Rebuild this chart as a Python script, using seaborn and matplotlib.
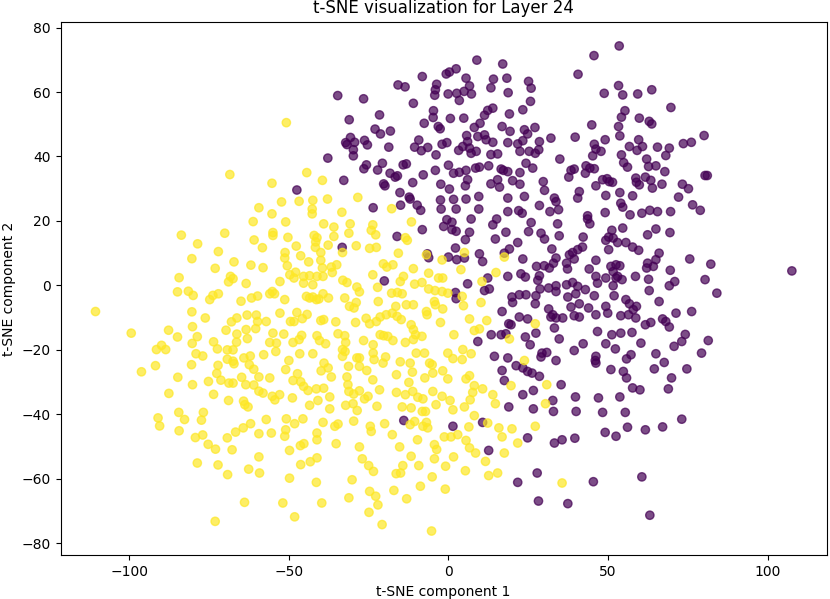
import numpy as np
import pandas as pd
import matplotlib
matplotlib.use("Agg")
import matplotlib.pyplot as plt
import seaborn as sns

# points (cluster 0 = purple, cluster 1 = yellow)
purple_pts = [
    (-34.7,58.9),(-26.6,57.9),(-15.8,62.2),(-13.6,61.6),(-8.2,64.8),(-11.0,56.5),(-0.7,65.6),(0.3,66.2),(2.4,67.2),
    (-3.7,62.4),(-4.1,60.7),(-4.3,59.0),(-0.1,59.4),(2.6,59.6),(3.4,57.4),(-4.7,54.2),(-4.8,52.1),(-7.6,50.3),
    (0.6,51.8),(-3.2,49.3),(-2.6,48.6),(-21.6,52.9),(-31.1,51.4),(-23.0,48.5),(-21.3,47.0),(-18.2,47.9),(-30.7,45.9),
    (-32.2,44.3),(-29.4,44.4),(-31.8,43.7),(-29.8,42.1),(-29.8,40.2),(-26.3,45.0),(-25.4,43.6),(-18.7,42.9),(-10.6,42.9),
    (-8.5,41.8),(-6.5,42.8),(-9.3,45.1),(-2.0,43.8),(-0.5,44.3),(-3.9,40.5),(3.2,41.9),(-37.8,39.5),(-25.7,37.4),
    (-26.5,36.2),(-22.2,35.8),(-20.7,37.9),(-18.3,34.8),(-16.7,33.6),(-16.0,34.0),(-14.2,37.4),(-13.2,37.7),(-7.9,34.3),
    (-4.1,35.7),(0.0,37.3),(1.6,34.8),(3.4,35.1),(-32.8,32.6),(-20.3,31.5),(-19.9,30.9),(-11.2,31.9),(-2.4,31.4),
    (0.3,29.9),(-47.5,29.6),(-15.2,28.8),(-12.3,27.4),(-12.0,26.8),(-2.5,26.5),(1.6,26.7),(-9.8,24.9),(-8.7,23.3),
    (-15.0,24.9),(-23.6,24.1),(-2.3,23.7),(2.4,23.7),
    (-0.5,20.4),(1.1,19.6),(-1.5,18.3),(1.1,17.3),(2.4,16.8),(-8.2,17.3),(-16.1,15.2),(-33.3,11.8),(-6.6,9.8),
    (-6.2,8.6),(0.0,8.8),(2.2,11.6),(2.6,8.0),(-20.1,1.4),(2.2,-2.2),(2.4,-4.1),(-14.0,-41.9),(1.4,-43.7),
    (8.9,69.9),(17.0,68.7),(5.5,64.3),(6.6,61.9),(7.2,59.4),(4.9,60.2),(14.1,64.0),(13.3,61.3),(18.3,64.3),
    (18.7,59.8),(25.1,63.3),(25.9,61.2),(25.7,57.1),(23.3,54.5),(19.1,53.2),(13.9,55.0),(12.3,54.3),(11.3,52.8),
    (9.9,50.3),(4.8,51.9),(8.1,49.0),(9.2,46.2),(11.3,46.7),(5.7,46.5),(6.0,44.6),(6.6,42.6),(4.5,43.1),
    (7.1,41.0),(8.7,41.6),(13.9,44.4),(11.8,45.2),(16.8,49.3),(19.3,47.8),(23.8,48.3),(24.8,47.0),(27.1,49.0),
    (18.6,44.3),(21.7,43.9),(22.4,41.6),(23.3,44.9),(28.5,44.6),(28.3,42.1),(25.3,41.6),(27.2,41.0),(32.1,45.7),
    (13.3,40.6),(15.4,40.8),(5.5,35.7),(6.0,32.8),(5.3,30.9),(8.5,36.4),(9.7,36.7),(12.6,37.1),(16.5,36.1),
    (17.2,35.7),(18.6,35.3),(15.4,32.8),(24.3,37.9),(26.4,36.4),(22.4,35.0),(20.1,32.5),(22.4,31.4),(13.3,31.5),
    (16.0,30.5),(29.7,32.2),(30.1,29.5),(34.9,39.2),(9.5,27.6),(18.6,27.1),(23.8,27.6),(5.5,26.8),(9.5,23.7),
    (18.6,22.9),(22.0,23.2),(23.1,22.4),(28.5,24.8),(31.8,22.9),(33.2,27.1),(33.7,26.0),(34.5,23.5),(39.7,46.0),
    (40.6,65.5),(45.6,71.3),(53.5,74.3),(48.8,59.6),(53.3,62.0),(54.6,59.1),(59.3,59.4),(63.7,60.7),(55.3,54.2),
    (54.2,52.2),(53.3,49.3),(53.7,46.4),(44.9,49.8),(49.1,45.2),(45.7,43.8),(46.2,42.3),(47.8,41.6),(45.2,40.2),
    (59.8,51.9),(62.9,50.9),(63.7,50.1),(56.7,43.1),(59.6,45.2),(59.1,41.9),(60.8,43.1),(54.2,40.5),(54.9,38.1),
    (56.1,36.7),(62.1,39.2),(62.7,36.9),(65.0,37.1),(65.5,42.9),(39.4,36.1),(38.4,35.7),(37.7,33.6),(43.1,37.1),
    (44.3,36.4),(45.7,36.2),(42.9,34.8),(48.3,32.8),(49.7,33.1),(50.4,32.2),(51.4,32.0),(46.2,30.9),(41.0,29.1),
    (40.5,27.1),(49.3,27.9),(53.7,28.8),(57.7,27.8),(58.7,33.3),(58.9,32.0),(61.7,33.6),(63.4,32.6),(63.9,30.2),
    (59.8,31.2),(65.5,22.9),(63.1,23.3),(54.0,25.5),(54.6,24.3),(49.1,22.6),(43.6,21.6),(56.9,21.9),(60.6,22.4),
    (7.1,20.6),(13.9,18.8),(15.1,20.6),(25.9,19.5),(34.2,19.1),(43.6,20.6),(44.3,19.1),(6.6,16.5),(18.0,16.5),
    (25.1,16.7),(29.0,16.2),(30.1,14.4),(34.7,15.4),(42.2,15.0),(51.2,17.1),(50.2,15.0),(49.3,14.0),(51.6,14.7),
    (53.0,13.3),(54.6,17.8),(62.4,15.7),(65.0,17.5),(55.6,13.3),(57.7,11.9),(59.6,10.9),(5.3,14.2),(14.7,14.4),
    (21.7,13.3),(19.1,11.3),(17.5,10.0),(23.3,8.2),(32.4,11.3),(33.7,8.5),(38.9,10.2),(40.5,11.1),(42.0,11.9),
    (37.9,9.5),(39.4,8.2),(46.2,7.8),(50.2,11.1),(9.7,9.8),(10.7,7.4),(5.0,8.5),(27.6,5.9),(30.0,6.1),
    (31.6,5.4),(32.9,6.9),(37.0,6.9),(37.3,5.1),(44.1,5.1),(46.2,2.8),(46.7,0.7),(50.9,5.9),(52.5,6.4),
    (53.7,6.1),(51.6,4.3),(53.0,2.8),(52.5,2.3),(54.4,1.8),(49.3,2.3),(51.6,-0.1),(58.6,2.8),(62.4,6.9),
    (62.1,5.4),(65.0,8.0),(64.2,5.9),(62.7,1.9),(62.9,-1.6),(18.6,2.8),(22.7,3.6),(24.1,2.6),(28.5,3.0),
    (28.0,1.6),(12.3,2.3),(6.0,0.5),(11.3,-1.6),(12.8,-1.1),(28.7,-1.1),(31.4,-0.8),(33.7,-0.1),(33.7,-1.9),
    (37.0,0.2),(38.9,0.9),(40.5,-0.3),(39.9,-2.6),(42.9,-1.3),(37.4,-3.6),(45.7,-3.2),(19.9,-3.6),(20.1,-5.3),
    (22.2,-2.9),(24.3,-2.9),(27.4,-3.2),(27.2,-5.7),(31.4,-7.3),(32.7,-9.1),(33.7,-10.1),(32.1,-9.8),(35.8,-10.1),
    (38.4,-6.7),(41.0,-5.7),(39.4,-9.4),(41.0,-9.8),(43.9,-7.0),(46.2,-9.1),(46.7,-14.3),(49.3,-6.5),(49.9,-8.6),
    (51.9,-3.2),(55.6,-4.4),(56.7,-5.7),(58.9,-6.5),(57.9,-7.5),(54.0,-9.4),(56.4,-9.1),(58.7,-10.1),(61.7,-12.2),
    (63.4,-11.5),(16.8,-8.1),(22.2,-9.8),(24.8,-10.4),(18.9,-11.9),(19.6,-12.2),(13.4,-15.3),(16.5,-15.3),(18.0,-15.0),
    (9.2,-17.4),(24.1,-16.0),(27.4,-14.8),(25.6,-18.4),(33.2,-13.2),(34.7,-16.6),(42.2,-18.1),(39.4,-20.2),(51.2,-15.3),
    (54.0,-14.8),(57.5,-14.6),(60.3,-17.9),(49.3,-18.1),(52.3,-19.7),(65.0,-21.2),(46.2,-22.0),(46.0,-23.3),(46.2,-24.1),
    (55.8,-22.8),(57.2,-21.5),(14.4,-22.0),(18.6,-22.5),(21.2,-24.9),(23.3,-25.6),(24.8,-26.7),(29.3,-21.0),(30.8,-20.8),
    (29.0,-22.2),(33.7,-23.3),(16.8,-26.4),(17.5,-29.5),(26.2,-27.2),(28.5,-28.2),(35.3,-30.8),(50.9,-26.1),(54.8,-26.7),
    (55.8,-28.7),(64.5,-25.9),(57.7,-31.8),(60.0,-32.4),(23.3,-33.9),(26.6,-32.6),(32.7,-35.7),(39.8,-34.6),(47.0,-34.9),
    (53.7,-34.6),(18.9,-37.7),(26.6,-38.3),(32.9,-39.1),(40.0,-39.1),(48.3,-39.4),(55.4,-39.4),
    (10.7,-42.5),(12.6,-51.2),(24.8,-47.3),(33.2,-48.9),(35.6,-47.9),(39.6,-47.4),(49.1,-45.6),(52.5,-46.8),(56.1,-44.0),
    (61.7,-44.8),(21.7,-61.1),(27.8,-58.2),(28.2,-66.9),(37.4,-67.7),(45.4,-60.9),(60.6,-59.4),(63.1,-71.3),
    (69.7,55.2),(80.1,46.5),(73.6,44.0),(76.1,44.4),(69.2,42.6),(68.1,40.3),(67.8,35.3),(80.4,34.1),(81.1,34.1),
    (66.9,31.4),(73.3,31.4),(75.2,30.0),(72.1,27.4),(76.5,25.0),(78.9,23.3),(69.6,22.9),
    (69.4,16.4),(66.0,10.0),(75.6,8.2),(82.2,6.6),(69.5,4.7),(70.9,1.2),(69.2,-0.1),(80.4,1.8),(107.6,4.5),
    (84.1,-2.4),(66.0,-5.0),(71.3,-8.6),(76.2,-8.1),(67.1,-10.4),(68.1,-11.2),(69.2,-12.9),(74.2,-15.2),(73.1,-17.4),
    (70.7,-18.9),(81.4,-17.1),(79.3,-21.0),(67.6,-23.9),(74.7,-25.9),(69.9,-28.7),(68.9,-32.1),(73.1,-41.5),(67.1,-43.9),
]

yellow_pts = [
    (-68.5,34.4),(-83.7,15.6),(-78.6,12.9),(-70.1,16.2),(-61.2,19.8),(-59.4,24.1),(-60.9,14.1),(-72.1,10.5),(-80.4,8.3),
    (-67.2,7.3),(-61.9,6.3),(-73.1,5.3),(-84.4,2.4),(-68.3,2.8),(-67.5,2.1),(-68.9,1.1),(-63.4,0.6),(-84.9,-2.0),
    (-81.5,-1.8),(-80.0,-3.1),(-74.8,-4.4),(-73.8,-3.1),(-72.1,-2.6),(-65.0,-4.9),(-61.7,-3.9),(-59.8,-3.3),(-110.6,-8.1),
    (-80.4,-8.2),(-76.2,-10.1),(-63.1,-9.2),(-60.2,-9.2),(-66.3,-10.1),(-68.0,-11.3),(-59.8,-11.2),(-80.2,-12.8),(-69.7,-13.9),
    (-99.4,-14.8),(-87.7,-13.9),(-63.4,-13.7),(-60.4,-13.4),(-84.9,-16.0),(-78.7,-15.9),(-66.3,-15.1),(-66.4,-17.6),(-63.0,-16.5),
    (-80.3,-18.0),(-73.6,-17.5),(-89.9,-18.6),(-91.5,-19.9),(-88.6,-19.9),(-72.4,-19.7),(-69.3,-20.0),(-67.5,-20.0),
    (-79.1,-21.2),(-77.0,-21.9),(-69.3,-22.9),(-67.5,-23.5),(-67.2,-24.3),(-64.1,-22.5),(-62.1,-21.9),(-72.2,-24.8),(-80.5,-24.6),
    (-91.8,-24.9),(-96.2,-26.8),(-62.4,-24.6),(-61.0,-26.0),(-72.6,-27.3),(-84.8,-28.5),(-71.3,-29.4),(-75.2,-29.8),(-80.2,-30.8),
    (-68.8,-30.3),(-67.5,-30.3),(-64.8,-28.5),(-63.5,-30.8),(-61.0,-30.9),(-59.4,-28.4),(-59.4,-32.8),(-87.6,-33.5),(-73.6,-33.8),
    (-68.9,-35.7),(-64.2,-35.9),(-63.8,-37.0),(-62.8,-37.7),(-84.5,-39.4),(-76.8,-39.4),(-91.0,-41.1),(-90.5,-43.6),(-82.7,-41.6),
    (-77.4,-41.8),(-84.4,-45.1),(-62.0,-42.9),(-64.3,-44.2),(-66.7,-45.5),(-59.4,-46.0),(-77.0,-46.4),(-79.3,-47.2),(-69.3,-47.3),
    (-75.3,-49.3),(-73.0,-50.8),(-67.8,-51.0),(-59.4,-53.2),(-78.7,-55.1),(-72.2,-55.7),(-62.6,-57.0),(-69.2,-58.7),(-59.2,-58.2),
    (-63.9,-67.3),(-73.1,-73.2),
    (-50.8,50.5),(-44.4,35.0),(-39.5,32.6),(-55.3,31.7),(-52.3,25.9),(-46.8,26.1),(-42.5,26.4),(-37.9,26.8),(-28.4,27.3),
    (-55.3,22.2),(-42.7,23.7),(-42.7,22.2),(-33.4,22.7),(-17.8,23.8),
    (-51.0,19.7),(-39.1,19.1),(-35.9,18.1),(-30.8,19.1),(-23.7,18.8),(-24.2,17.1),(-22.8,15.7),(-55.0,16.4),(-55.0,15.5),
    (-50.3,14.9),(-42.1,15.5),(-41.2,14.8),(-41.6,13.5),(-41.7,11.8),(-35.9,15.2),(-31.2,16.2),(-11.6,19.7),(-13.5,14.8),
    (-12.9,14.0),(-58.3,11.7),(-51.2,10.2),(-51.3,8.5),(-47.7,12.2),(-46.3,9.2),(-43.8,7.3),(-40.0,10.2),(-37.7,12.5),
    (-33.2,10.2),(-28.9,12.3),(-24.7,11.5),(-22.6,11.8),(-15.7,10.0),(-6.9,9.5),(-2.0,7.9),
    (-50.5,6.1),(-49.7,3.3),(-47.9,4.1),(-48.4,2.3),(-45.4,2.8),(-45.4,0.7),(-43.5,3.0),(-42.5,0.2),(-40.0,7.8),
    (-39.5,5.4),(-36.7,5.7),(-36.4,4.0),(-35.0,6.4),(-33.1,1.6),(-31.8,0.9),(-39.3,2.8),(-41.2,2.8),(-58.1,5.5),
    (-52.8,1.2),(-23.7,3.3),(-20.4,6.7),(-19.3,5.7),(-17.4,6.4),(-14.1,2.8),(-15.1,1.2),(-22.2,-0.6),(-28.7,-0.5),
    (-27.9,-2.0),(-11.0,5.2),(-6.2,3.8),(-3.1,2.3),(-1.8,2.3),(-10.6,0.4),(-8.3,0.9),(-6.2,-1.1),(-4.2,-1.6),
    (-2.0,-1.9),(-0.2,-2.4),(-17.8,-2.4),(-16.0,-2.2),(-14.5,-2.6),
    (-56.0,-2.6),(-55.2,-1.9),(-54.5,-2.6),(-51.3,-4.4),(-44.5,-3.4),(-43.5,-3.9),(-42.5,-3.6),(-41.4,-4.4),(-40.6,-4.2),
    (-39.3,-2.6),(-37.6,-3.9),(-32.5,-3.9),(-28.9,-5.3),(-31.0,-6.5),(-29.6,-7.0),(-22.0,-5.0),(-16.5,-6.5),(-13.2,-6.0),
    (-11.0,-6.0),(-4.4,-5.0),(-4.1,-6.0),(-1.8,-7.3),(-6.9,-8.1),(-6.7,-9.1),
    (-57.1,-11.2),(-52.8,-8.6),(-49.5,-11.2),(-48.4,-11.2),(-47.5,-8.4),(-45.8,-10.3),(-44.3,-9.0),(-40.0,-10.9),(-39.1,-10.6),
    (-35.3,-11.3),(-29.1,-11.5),(-25.8,-10.2),(-24.7,-11.9),(-22.6,-11.2),(-21.4,-9.8),(-19.5,-9.1),(-17.6,-8.6),(-16.1,-9.6),
    (-14.8,-10.6),(-11.7,-12.2),(-11.0,-13.7),(-10.3,-15.3),(-2.5,-11.5),(1.7,-15.3),
    (-55.0,-14.8),(-53.9,-17.9),(-56.0,-17.7),(-51.6,-15.1),(-48.7,-17.7),(-46.8,-16.8),(-46.0,-15.5),(-41.2,-15.6),(-40.4,-17.1),
    (-38.5,-18.1),(-34.6,-15.0),(-32.5,-15.6),(-32.2,-17.7),(-26.6,-17.1),(-21.4,-15.3),(-20.3,-15.6),(-19.0,-15.8),(-17.4,-17.1),
    (-13.5,-17.7),(-11.0,-16.8),(-8.3,-15.8),
    (-57.9,-21.5),(-54.1,-20.5),(-50.0,-23.3),(-51.0,-26.1),(-46.6,-21.2),(-42.5,-21.2),(-39.0,-24.1),(-39.9,-26.5),(-37.7,-25.6),
    (-33.2,-19.9),(-33.2,-22.0),(-32.4,-20.5),(-28.7,-22.5),(-27.9,-22.5),(-27.9,-25.1),(-31.3,-25.1),(-23.6,-18.4),(-23.6,-21.0),
    (-23.3,-23.0),(-19.7,-22.2),(-20.5,-24.1),(-15.1,-23.7),(-12.0,-24.1),(-10.1,-21.0),(-7.5,-21.0),(-5.9,-24.1),(-5.1,-24.6),
    (-0.2,-21.0),(1.4,-22.7),
    (-25.6,-26.4),(-16.3,-27.7),(-11.3,-26.9),(-7.4,-28.7),(-4.9,-27.2),(-1.8,-26.5),(-56.0,-28.7),(-47.3,-27.4),(-46.3,-29.9),
    (-48.7,-29.5),(-36.7,-28.4),(-31.8,-28.4),(-31.5,-30.8),(-23.7,-29.3),(-21.6,-32.4),(-12.4,-30.1),(-0.2,-29.0),
    (-58.1,-33.4),(-55.2,-34.4),(-52.9,-33.9),(-54.4,-35.5),(-48.9,-34.9),(-45.4,-31.3),(-44.0,-32.6),(-41.4,-32.1),(-39.1,-31.9),
    (-37.2,-34.6),(-31.2,-32.9),(-27.9,-32.7),(-29.7,-33.7),(-26.3,-35.2),(-25.2,-34.4),(-16.3,-33.2),(-13.5,-33.9),(-11.2,-32.9),
    (-9.6,-34.7),(-8.0,-35.2),(-4.9,-32.9),(-2.0,-34.4),(0.5,-35.7),
    (-43.5,-37.2),(-40.9,-35.7),(-37.2,-38.3),(-32.2,-37.2),(-29.9,-36.7),(-28.6,-38.8),(-22.4,-37.5),(-14.5,-37.7),(-11.7,-38.0),
    (-8.2,-39.1),(-7.2,-39.1),(-3.9,-37.0),(1.4,-38.6),
    (-57.1,-41.6),(-50.8,-41.4),(-45.6,-41.4),(-39.3,-42.5),(-34.6,-43.0),(-35.6,-43.7),(-29.7,-42.1),(-20.0,-42.9),(-24.5,-43.7),
    (-24.2,-45.3),(-17.6,-46.3),(-10.6,-42.2),(-8.0,-43.7),(-6.9,-42.5),(-6.5,-44.2),(-12.0,-43.2),(-1.3,-47.0),(0.8,-47.0),
    (2.9,-46.3),(-55.5,-45.8),(-51.0,-44.8),(-51.3,-46.8),(-48.2,-42.9),(-41.2,-45.8),(-41.2,-47.9),(-46.4,-49.7),(-45.3,-49.1),
    (-49.8,-51.2),(-35.2,-49.1),(-27.9,-50.1),(-9.7,-47.9),(-4.4,-49.4),(-3.7,-50.9),(-15.3,-50.1),(-11.7,-53.0),(-9.3,-55.9),
    (-4.4,-53.8),(1.6,-53.2),(-0.9,-56.1),(-46.3,-55.6),(-43.3,-54.7),(-41.2,-53.5),(-27.0,-53.8),(-25.0,-55.9),(-23.5,-57.7),
    (-14.3,-55.9),(-16.4,-58.4),(-15.0,-58.2),(-49.8,-59.8),(-41.4,-61.1),(-30.2,-60.3),(-8.8,-62.3),(-5.1,-59.4),(-1.0,-63.2),
    (-24.7,-63.9),(-22.8,-65.4),(-22.1,-68.1),(-31.2,-65.9),(-17.1,-63.6),(-13.1,-66.2),(-51.9,-67.5),(-39.7,-67.5),(-48.2,-71.8),
    (-24.9,-70.4),(-20.8,-74.2),(-5.3,-76.2),
    (5.0,10.2),(3.9,4.9),(17.5,8.8),(14.9,4.0),(10.5,1.2),(4.3,-3.4),(4.7,-6.3),(10.2,-5.3),(6.6,-10.4),
    (12.0,-10.9),(8.1,-14.0),(9.7,-13.5),(27.2,-11.9),(19.1,-16.6),(4.5,-19.9),(7.1,-21.2),(4.3,-23.0),(23.8,-23.3),
    (6.6,-28.0),(5.5,-29.0),(8.1,-31.1),(10.7,-32.1),(7.6,-33.2),(19.6,-31.1),(30.8,-30.8),(13.9,-33.9),(14.7,-36.7),
    (6.8,-35.5),(5.0,-37.7),(30.4,-36.7),(8.1,-40.4),
    (6.4,-43.9),(5.5,-48.1),(6.6,-50.4),(8.5,-52.0),(12.3,-42.7),(15.8,-44.2),(16.8,-47.0),(19.9,-44.5),(27.2,-43.7),
    (21.7,-48.9),(17.5,-52.0),(11.6,-54.6),(5.3,-57.5),(12.6,-59.0),(15.4,-58.2),(35.6,-61.3),
]

df = pd.DataFrame(
    [(x, y, 0) for x, y in purple_pts] + [(x, y, 1) for x, y in yellow_pts],
    columns=["x", "y", "label"],
)

fig, ax = plt.subplots(figsize=(8.3, 5.99), dpi=100)
fig.subplots_adjust(left=0.0731, right=0.996, top=0.9638, bottom=0.073)

sns.scatterplot(data=df, x="x", y="y", hue="label",
                palette={0: "#440154", 1: "#fde725"},
                s=36, alpha=0.7, edgecolor="face", linewidth=1,
                legend=False, ax=ax)

ax.set_title("t-SNE visualization for Layer 24")
ax.set_xlabel("t-SNE component 1")
ax.set_ylabel("t-SNE component 2")

fig.savefig("out.png", dpi=100)
